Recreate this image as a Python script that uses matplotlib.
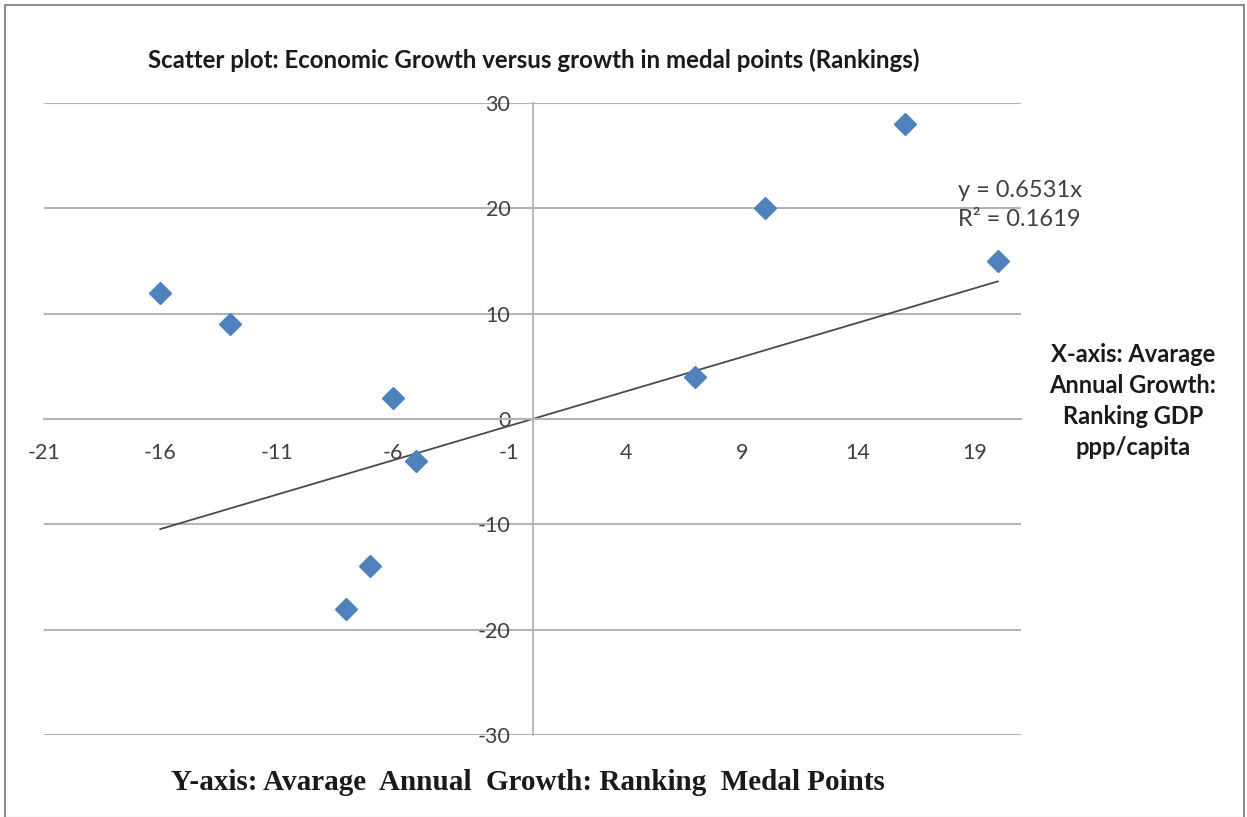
import numpy as np
import matplotlib
matplotlib.use("Agg")
import matplotlib.pyplot as plt
from matplotlib.patches import Rectangle

plt.rcParams["axes.unicode_minus"] = False

# ---- data ----
x_growth_gdp = [-16, -13, -6, -5, -7, -8, 7, 10, 16, 20]
y_growth_medal = [12, 9, 2, -4, -14, -18, 4, 20, 28, 15]
x_ticks = [-21, -16, -11, -6, -1, 4, 9, 14, 19]
y_ticks = [-30, -20, -10, 0, 10, 20, 30]
title_text = "Scatter plot: Economic Growth versus growth in medal points (Rankings)"
x_label_text = "X-axis: Avarage\nAnnual Growth:\nRanking GDP\nppp/capita"
y_label_text = "Y-axis: Avarage  Annual  Growth: Ranking  Medal Points"
trend_text = "y = 0.6531x\nR\u00b2 = 0.1619"

W, H = 1247, 817
fig = plt.figure(figsize=(W / 100, H / 100), dpi=100)
fig.patch.set_facecolor("white")

def fx(px):
    return px / W

def fy(py):
    return 1 - py / H

ax = fig.add_axes([fx(44), fy(735), fx(1021) - fx(44), fy(103) - fy(735)])
ax.set_xlim(-21, 21)
ax.set_ylim(-30, 30)
ax.set_facecolor("none")

grid_color = "#B4B4B4"
for yv in y_ticks:
    ax.axhline(yv, color=grid_color, lw=1.5, zorder=0)

for s in ["top", "right"]:
    ax.spines[s].set_visible(False)
ax.spines["left"].set_position(("data", 0))
ax.spines["bottom"].set_position(("data", 0))
ax.spines["left"].set_color(grid_color)
ax.spines["bottom"].set_color(grid_color)
ax.spines["left"].set_linewidth(1.3)
ax.spines["bottom"].set_linewidth(1.5)

ax.set_xticks(x_ticks)
ax.set_yticks(y_ticks)
ax.tick_params(axis="both", length=0, labelsize=15.5, labelcolor="#404040")
ax.tick_params(axis="x", pad=17)
ax.tick_params(axis="y", pad=16)
for lbl in ax.get_xticklabels() + ax.get_yticklabels():
    lbl.set_fontfamily("Lato")

# scatter points
ax.plot(x_growth_gdp, y_growth_medal, linestyle="none", marker="D",
        markersize=11, color="#4F81BD", markeredgecolor="#4F81BD", zorder=3)

# linear trend line through origin
xa = np.array(x_growth_gdp, dtype=float)
ya = np.array(y_growth_medal, dtype=float)
k = (xa * ya).sum() / (xa * xa).sum()
xl = np.array([xa.min(), xa.max()])
ax.plot(xl, k * xl, color="#4A4A4A", lw=1.3, zorder=2)

ax.text(18.3, 20.3, trend_text, fontsize=17, family="Lato", color="#404040",
        ha="left", va="center", linespacing=1.45)

# titles
fig.text(fx(534), fy(60), title_text, fontsize=17.3, family="Lato",
         fontweight="bold", color="#1a1a1a", ha="center", va="center")
fig.text(fx(528), fy(783), y_label_text, fontsize=21, family="Liberation Serif",
         fontweight="bold", color="#1a1a1a", ha="center", va="center")
fig.text(fx(1133), fy(401), x_label_text, fontsize=17, family="Lato",
         fontweight="bold", color="#1a1a1a", ha="center", va="center",
         linespacing=1.43)

# chart border
fig.patches.append(Rectangle((fx(5), fy(818)), fx(1244) - fx(5), fy(5) - fy(818),
                             transform=fig.transFigure, fill=False,
                             edgecolor="#8C8C8C", lw=1.5))

fig.savefig("out.png", dpi=100)
